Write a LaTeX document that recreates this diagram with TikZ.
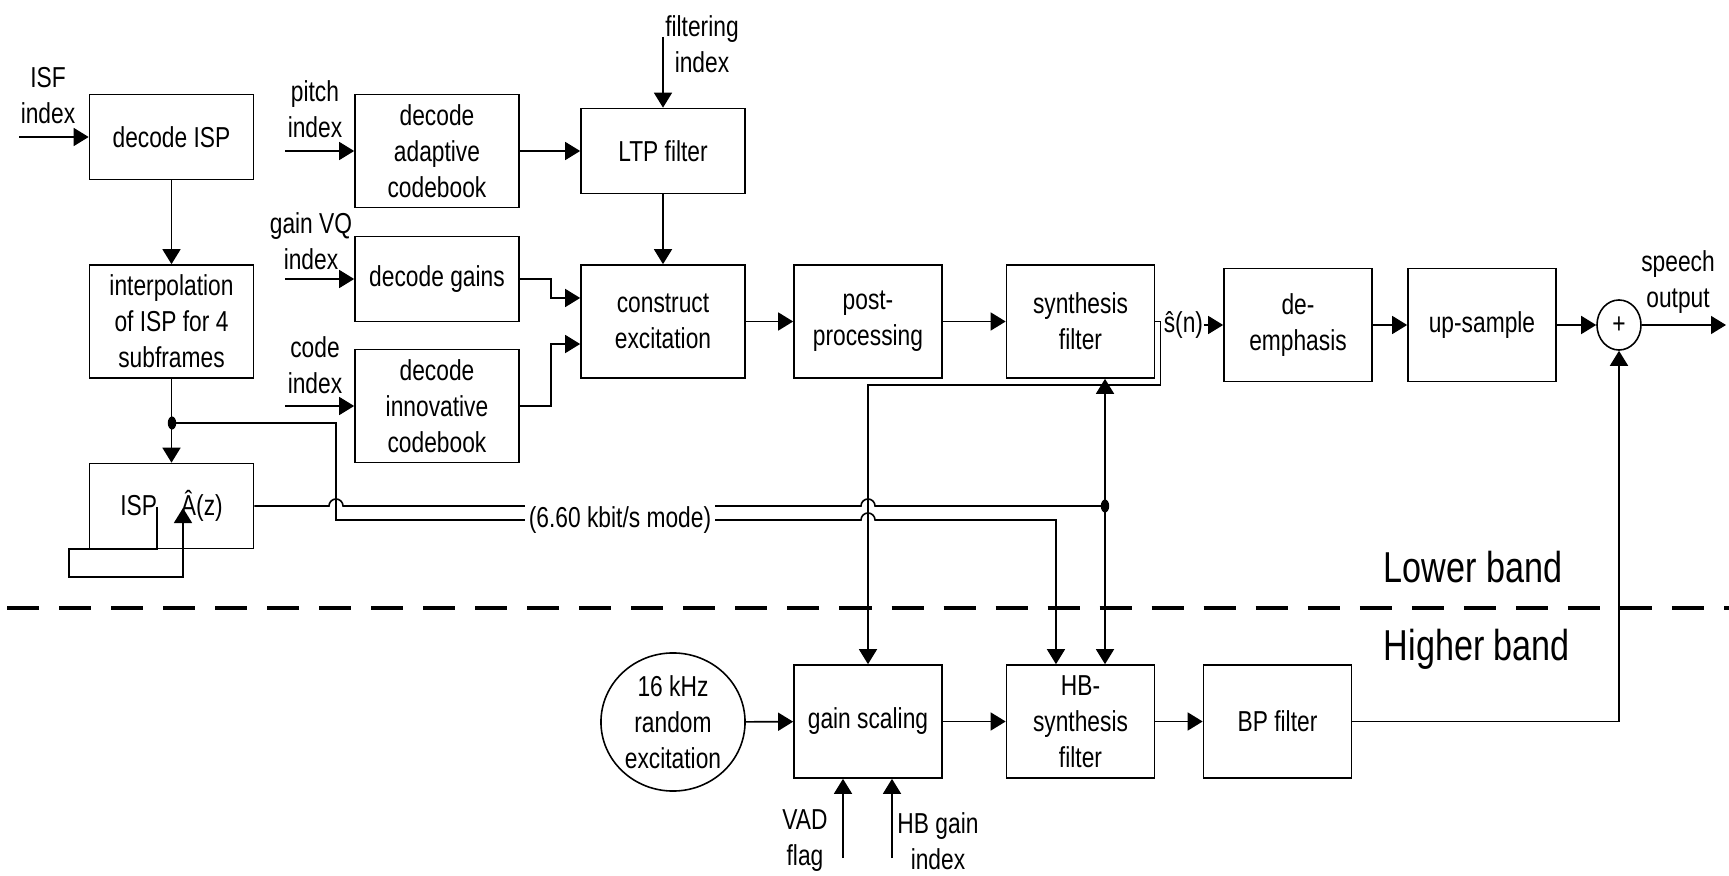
\documentclass[tikz,border=0pt]{standalone}
\usepackage{fontspec}
\setmainfont{Liberation Sans}[FakeStretch=0.79]
\usetikzlibrary{arrows.meta,shapes.geometric}

\newcommand{\blockfont}{\fontsize{8.2}{10.2}\selectfont}
\newcommand{\bandfont}{\fontsize{12.3}{14}\selectfont}

\tikzset{
  block/.style={draw, align=center, inner sep=1pt, font=\blockfont},
  wide/.style={minimum width=1.64cm},
  narrow/.style={minimum width=1.48cm},
  tall/.style={minimum height=1.13cm},
  short/.style={minimum height=0.85cm},
  label text/.style={align=center, inner sep=0pt, font=\blockfont},
  junction/.style={x radius=0.042cm, y radius=0.065cm},
  hop/.style={start angle=180, end angle=0, radius=0.07cm},
  >={Triangle[length=0.15cm, width=0.18cm]},
}

\begin{document}
\begin{tikzpicture}[x=0.01cm, y=-0.01cm, line width=0.45pt]
  \useasboundingbox (0,0) rectangle (1729,876);

  % lower band
  \node (decode isp) [block, wide, short] at (171.5,137) {decode ISP};
  \node (interp) [block, wide, tall] at (171.5,321.5) {interpolation\\of ISP for 4\\subframes};
  \node (isp) [block, wide, short] at (171.5,506) {ISP\hspace{2.4mm}Â(z)};
  \node (adaptive) [block, wide, tall] at (437,151) {decode\\adaptive\\codebook};
  \node (gains) [block, wide, short] at (437,279) {decode gains};
  \node (innovative) [block, wide, tall] at (437,406) {decode\\innovative\\codebook};
  \node (ltp) [block, wide, short] at (663,151) {LTP filter};
  \node (construct) [block, wide, tall] at (663,321.5) {construct\\excitation};
  \node (post) [block, narrow, tall] at (868,321.5) {post-\\processing};
  \node (synthesis) [block, narrow, tall] at (1080.5,321.5) {synthesis\\filter};
  \node (deemphasis) [block, narrow, tall] at (1298,325) {de-\\emphasis};
  \node (upsample) [block, narrow, tall] at (1482,325) {up-sample};
  \node (sum) [draw, ellipse, minimum width=0.44cm, minimum height=0.5cm,
    inner sep=0pt, font=\blockfont] at (1619,325) {+};

  % higher band
  \node (noise) [draw, ellipse, minimum width=1.44cm, minimum height=1.38cm,
    inner sep=-2pt, align=center, font=\blockfont] at (673,722)
    {16 kHz\\random\\excitation};
  \node (gain) [block, narrow, tall] at (868,721.5) {gain scaling};
  \node (hb synthesis) [block, narrow, tall] at (1080.5,721.5) {HB-\\synthesis\\filter};
  \node (bp) [block, narrow, tall] at (1277.5,721.5) {BP filter};

  % inputs
  \node (isf label) [label text] at (48,96) {ISF\\index};
  \node (pitch label) [label text] at (315,109) {pitch\\index};
  \node (gain vq label) [label text] at (311,241) {gain VQ\\index};
  \node (code label) [label text] at (315,365) {code\\index};
  \node (filtering label) [label text] at (702,44) {filtering\\index};
  \node (vad label) [label text] at (805,841) {VAD\\flag};
  \node (hb gain label) [label text] at (938,841) {HB gain\\index};

  \draw [->] (19,137) coordinate (isf in) -- (decode isp.west);
  \draw [->] (285,151) coordinate (pitch in) -- (adaptive.west);
  \draw [->] (285,279) coordinate (gain vq in) -- (gains.west);
  \draw [->] (285,406) coordinate (code in) -- (innovative.west);
  \draw [->] (663,37) coordinate (filtering in) -- (ltp.north);
  \draw [->] (843,858) coordinate (vad in) -- (vad in |- gain.south);
  \draw [->] (892,858) coordinate (hb gain in) -- (hb gain in |- gain.south);

  % excitation path
  \draw [->] (decode isp) -- (interp);
  \draw [->] (adaptive) -- (ltp);
  \draw [->] (ltp) -- (construct);
  \draw [->]
    (gains.east) -- ++(31,0)
    |- ([yshift=0.235cm]construct.west)
  ;
  \draw [->]
    (innovative.east) -- ++(31,0)
    |- ([yshift=-0.225cm]construct.west)
  ;
  \draw [->] (construct) -- (post);
  \draw [->] (post) -- (synthesis);

  % output path
  \node (s hat) [label text, anchor=west] at (1163,325) {ŝ(n)};
  \draw (synthesis.east) -- ++(5,0) coordinate (tap);
  \draw [->] (s hat.east) -- (deemphasis.west);
  \draw [->] (deemphasis) -- (upsample);
  \draw [->] (upsample) -- (sum);
  \draw [->] (sum.east) -- (1726,325) coordinate (speech out);
  \node (speech label) [label text] at (1678,282) {speech\\output};

  \draw [->] (noise) -- (gain);
  \draw [->] (gain) -- (hb synthesis);
  \draw [->] (hb synthesis) -- (bp);
  \draw [->] (bp.east) -| (sum.south);

  % feedback of s(n) to gain scaling
  \draw [->] (tap) -- (tap |- 0,385) -| (gain.north);

  % LP filter paths
  \coordinate (isp split) at (172,423);
  \coordinate (mode split) at (1105,506);
  \draw [->] (interp) -- (isp);
  \draw [->]
    (157,507) coordinate (isp tap)
      -- (157,549) -- (69,549) -- (69,577) -- (183,577) -- (183,508)
  ;
  \draw
    (isp.east) -- (329,506) arc [hop]
      -- (861,506) arc [hop]
      -- (mode split)
  ;
  \draw [->]
    (isp split) -| (336,520)
      -- (861,520) arc [hop]
      -- (1056,520)
      -- ([xshift=-0.245cm]hb synthesis.north)
  ;
  \draw [->] (mode split) -- ([xshift=0.245cm]synthesis.south);
  \draw [->] (mode split) -- ([xshift=0.245cm]hb synthesis.north);
  \fill (isp split) ellipse [junction];
  \fill (mode split) ellipse [junction];
  \node (mode label) [fill=white, inner xsep=1pt, inner ysep=5pt, font=\blockfont]
    at (620,520) {(6.60 kbit/s mode)};

  % band separator
  \draw [line width=1pt, dash pattern=on 0.32cm off 0.2cm] (7,608) -- (1729,608);
  \node (lower label) [anchor=base west, inner sep=0pt, font=\bandfont] at (1383,583) {Lower band};
  \node (higher label) [anchor=base west, inner sep=0pt, font=\bandfont] at (1383,660) {Higher band};
\end{tikzpicture}
\end{document}
